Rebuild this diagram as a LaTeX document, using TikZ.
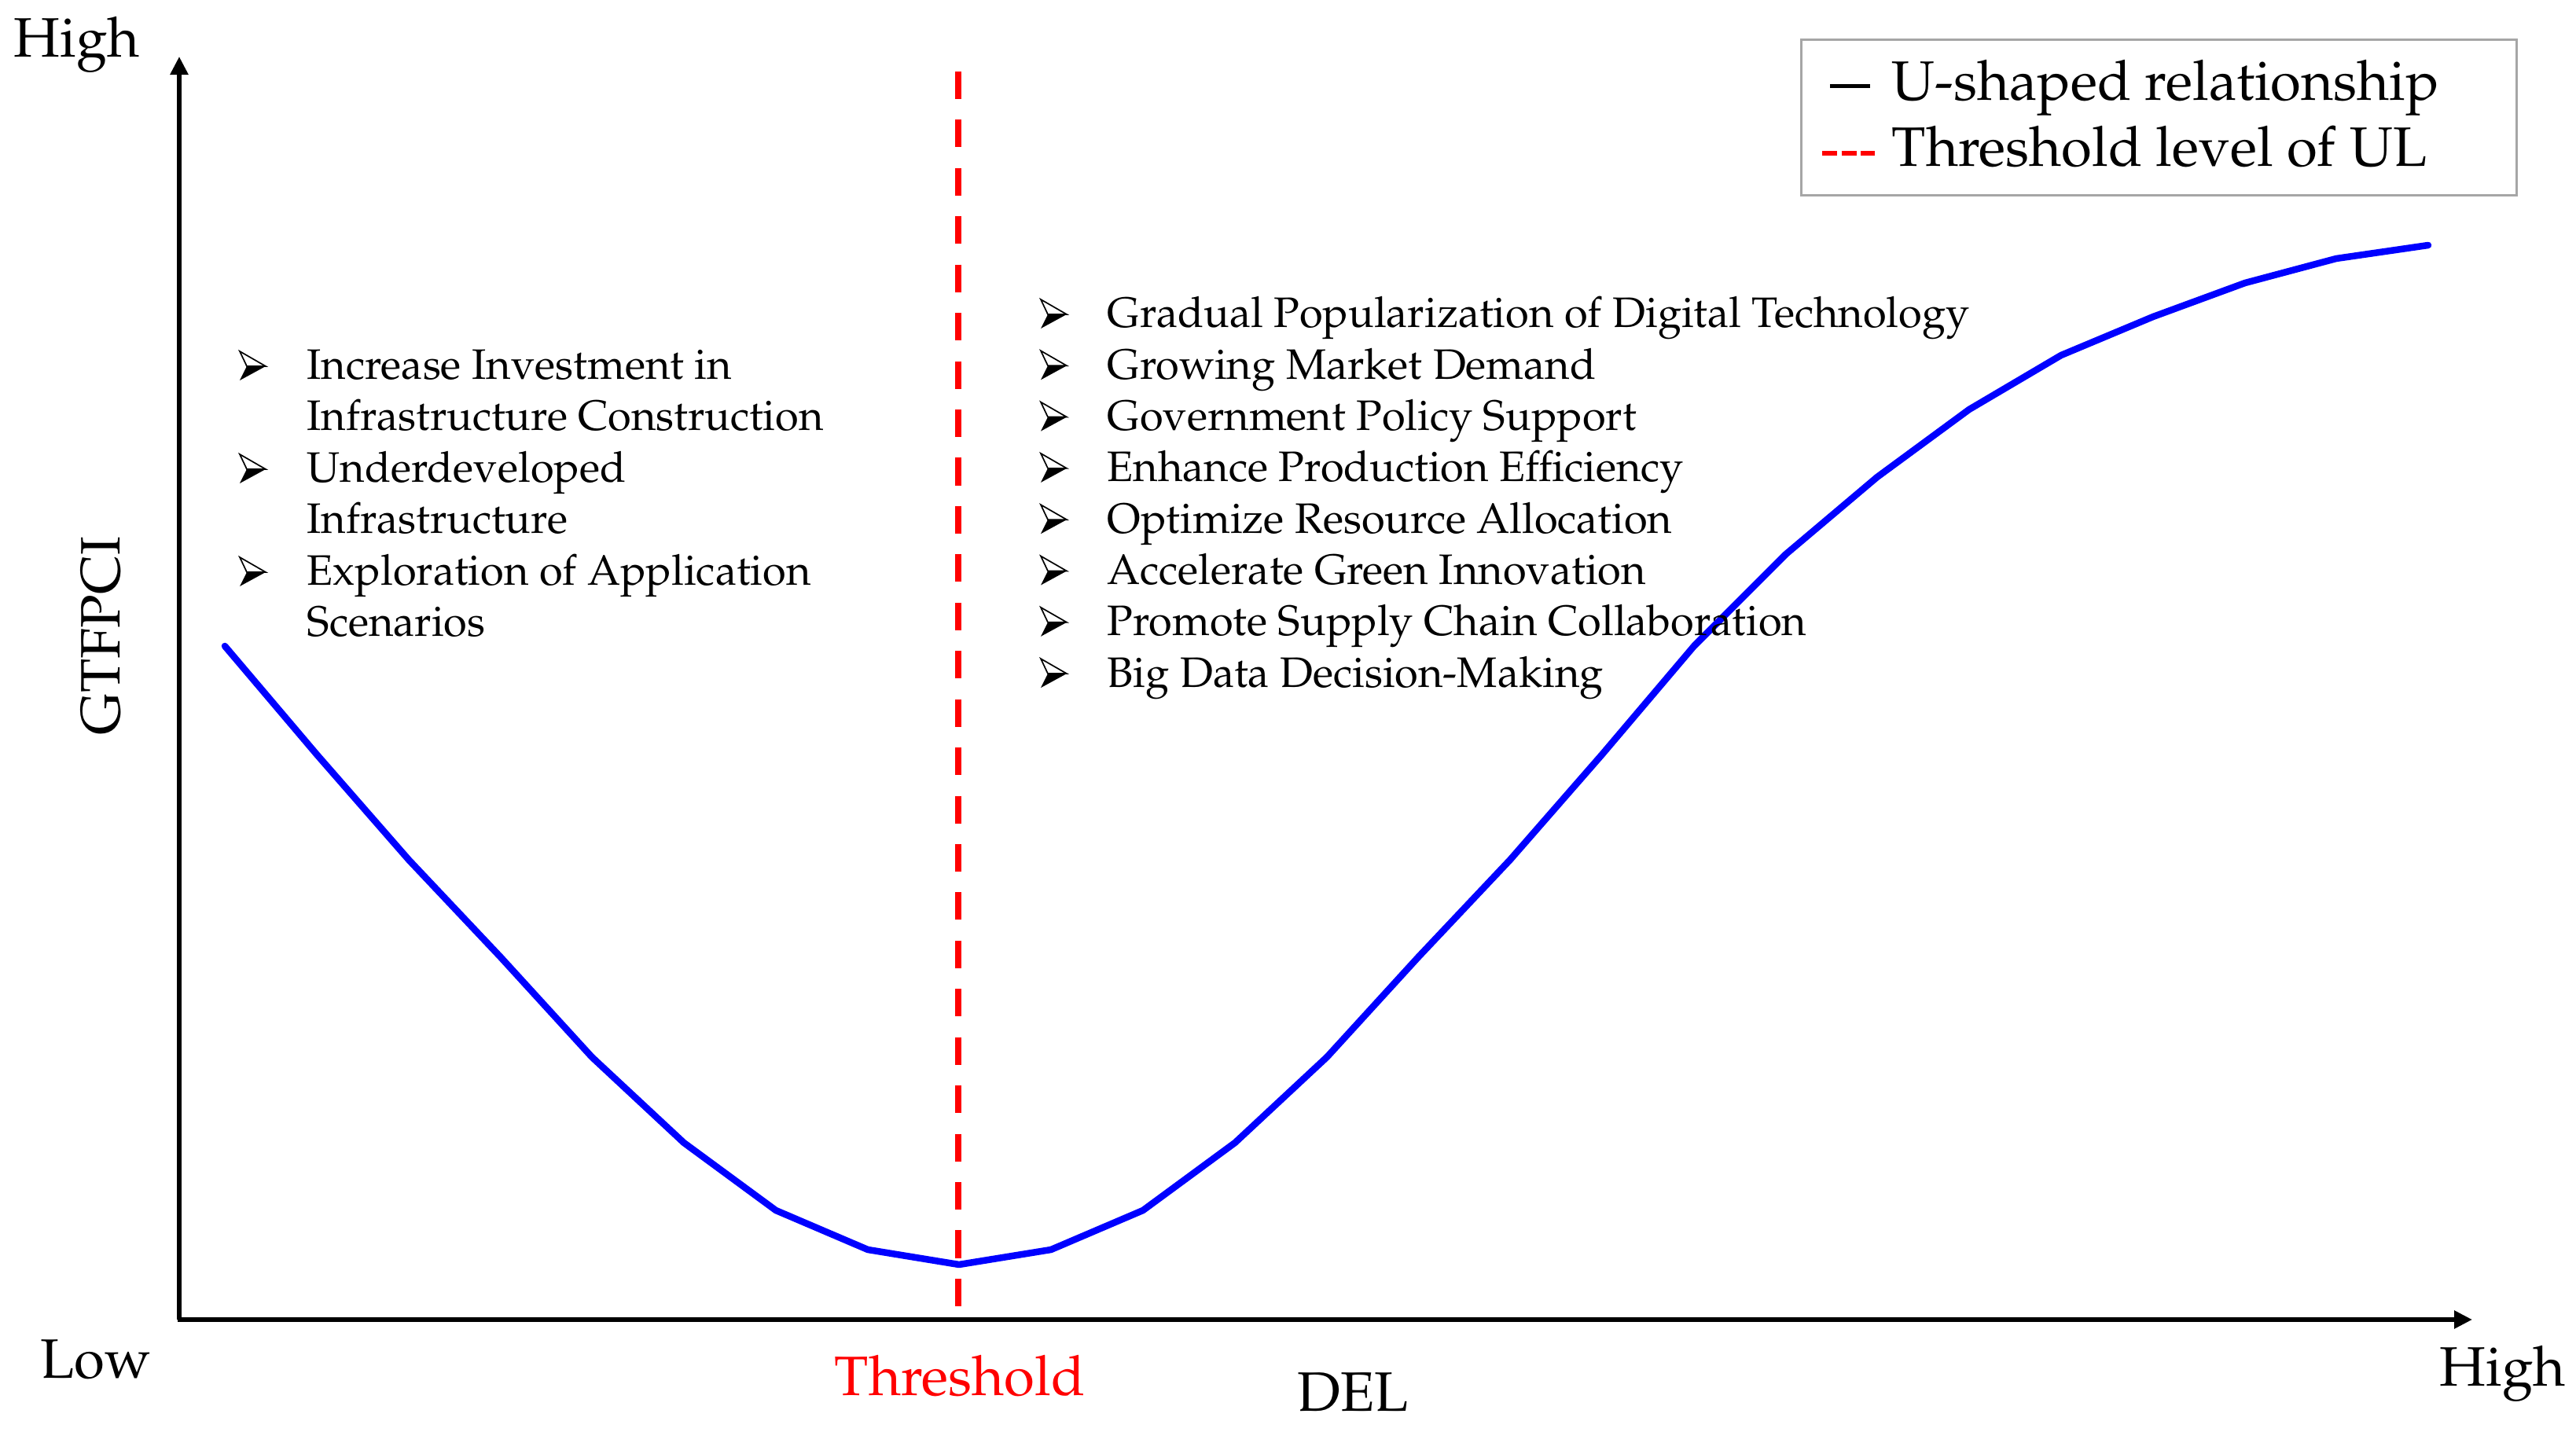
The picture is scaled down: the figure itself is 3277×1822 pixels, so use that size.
\documentclass[tikz,border=0pt]{standalone}
\usepackage[T1]{fontenc}
\renewcommand{\rmdefault}{ppl}
\usetikzlibrary{arrows.meta}
\begin{document}
\begin{tikzpicture}[x=0.01cm,y=-0.01cm,
  big/.style={font=\fontsize{20.1pt}{24pt}\selectfont, inner sep=0pt, anchor=base west},
  item/.style={font=\fontsize{15.4pt}{19pt}\selectfont, inner sep=0pt, anchor=base west},
  axis/.style={line width=0.056cm, -{Triangle[length=0.23cm,width=0.22cm]}},
  curve/.style={line width=0.085cm, blue, line join=round, line cap=round},
  thr/.style={line width=0.077cm, red, dash pattern=on 0.35cm off 0.264cm},
  arrowbullet/.pic={
    \fill (9,-17) -- (33,-17) -- (0,1) -- cycle;
    \draw[line width=0.017cm, line join=miter] (9,-17) -- (0,-36) -- (33,-17) -- cycle;
  }]
\useasboundingbox (0,0) rectangle (3277,1822);

% axes
\coordinate (O) at (228,1679);
\coordinate (ytop) at (228,72);
\coordinate (xend) at (3145,1679);
\draw[axis] (O) -- (ytop);
\draw[axis] (O) -- (xend);
\fill (226,1676) rectangle (231,1682);

% axis labels
\node[big] (hightop) at (17,73) {High};
\node[big] (low) at (51,1753) {Low};
\node[big] (highright) at (3103,1763) {High};
\node[big, text=red] (thrlabel) at (1061,1775) {Threshold};
\node[big] (del) at (1650,1795) {DEL};
\node[big, rotate=90, anchor=base] (gtfpci) at (152,809) {GTFPCI};

% threshold line
\coordinate (thrtop) at (1219,91);
\coordinate (thrbot) at (1219,1662);
\draw[thr] (thrtop) -- (thrbot);

% U-shaped curve
\draw[curve] (286,822) -- (403,960) -- (520,1094) -- (637,1218) -- (753,1345)
  -- (870,1454) -- (987,1540) -- (1104,1590) -- (1220,1609) -- (1337,1590)
  -- (1454,1540) -- (1571,1454) -- (1688,1345) -- (1804,1218) -- (1921,1094)
  -- (2038,960) -- (2155,822) -- (2272,705) -- (2388,607) -- (2505,521)
  -- (2622,452) -- (2739,403) -- (2856,360) -- (2972,329) -- (3089,312);

% legend
\draw[black!35, line width=0.03cm] (2291,51) rectangle (3201,249);
\coordinate (lg1a) at (2328,110);
\coordinate (lg1b) at (2379,110);
\draw[line width=0.05cm] (lg1a) -- (lg1b);
\node[big] (lgt1) at (2406,128) {U-shaped relationship};
\coordinate (lg2a) at (2318,195);
\coordinate (lg2b) at (2385,195);
\draw[red, line width=0.06cm, dash pattern=on 0.19cm off 0.055cm] (lg2a) -- (lg2b);
\node[big] (lgt2) at (2406,212) {Threshold level of UL};

% left bullet list
\pic at (305,483) {arrowbullet};
\node[item] (l1a) at (390,483) {Increase Investment in};
\node[item] (l1b) at (390,548) {Infrastructure Construction};
\pic at (305,614) {arrowbullet};
\node[item] (l2a) at (390,614) {Underdeveloped};
\node[item] (l2b) at (390,679) {Infrastructure};
\pic at (305,745) {arrowbullet};
\node[item] (l3a) at (390,745) {Exploration of Application};
\node[item] (l3b) at (390,810) {Scenarios};

% right bullet list
\foreach \t [count=\k from 0] in {Gradual Popularization of Digital Technology,
  Growing Market Demand, Government Policy Support, Enhance Production Efficiency,
  Optimize Resource Allocation, Accelerate Green Innovation,
  Promote Supply Chain Collaboration, Big Data Decision-Making}{
  \pic at (1324,417+65.3*\k) {arrowbullet};
  \node[item] (r\k) at (1408,417+65.3*\k) {\t};
}
\end{tikzpicture}
\end{document}
